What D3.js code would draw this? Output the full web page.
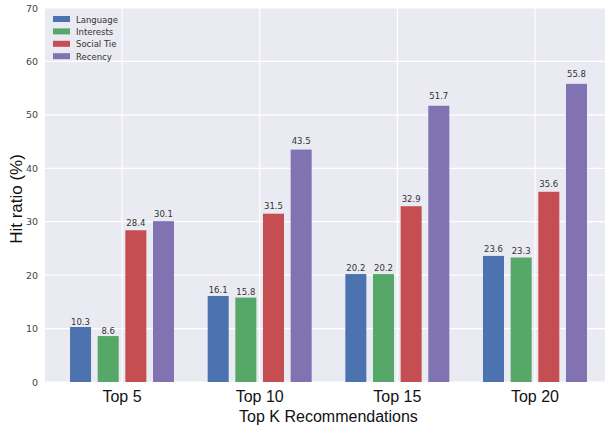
<!DOCTYPE html>
<html><head><meta charset="utf-8">
<script src="https://cdn.jsdelivr.net/npm/d3@7"></script>
<style>body{margin:0;background:#fff;} svg{display:block;}</style>
</head><body>
<svg id="chart" width="605" height="428"></svg>
<script>
const categories = ["Top 5", "Top 10", "Top 15", "Top 20"];
const seriesNames = ["Language", "Interests", "Social Tie", "Recency"];
const language = [10.3, 16.1, 20.2, 23.6];
const interests = [8.6, 15.8, 20.2, 23.3];
const socialTie = [28.4, 31.5, 32.9, 35.6];
const recency = [30.1, 43.5, 51.7, 55.8];
const yTicks = [0, 10, 20, 30, 40, 50, 60, 70];
const colors = ["#4C72B0", "#55A868", "#C44E52", "#8172B2"];
const seriesValues = [language, interests, socialTie, recency];

(function () {
const svg = d3.select("#chart");
const pLeft = 45, pRight = 612, pTop = 8, pBottom = 382;

const y = d3.scaleLinear().domain([0, 70]).range([pBottom, pTop]);
const x0 = d3.scaleBand().domain(categories).range([53.2, 603.8]).paddingInner(0.2445).paddingOuter(0.12225);
const x1 = d3.scaleBand().domain(seriesNames).range([0, x0.bandwidth()]).paddingInner(0.24).paddingOuter(0);

svg.append("rect").attr("x", pLeft).attr("y", pTop).attr("width", pRight - pLeft).attr("height", pBottom - pTop).attr("fill", "#EAEAF2");

// grid
svg.append("g").selectAll("line").data(yTicks).join("line")
  .attr("x1", pLeft).attr("x2", pRight)
  .attr("y1", d => y(d)).attr("y2", d => y(d))
  .attr("stroke", "#fff").attr("stroke-width", 1.2);
svg.append("g").selectAll("line").data(categories).join("line")
  .attr("x1", d => x0(d) + x0.bandwidth() / 2).attr("x2", d => x0(d) + x0.bandwidth() / 2)
  .attr("y1", pTop).attr("y2", pBottom)
  .attr("stroke", "#fff").attr("stroke-width", 1.2);

// y axis
const yAxis = svg.append("g").attr("transform", `translate(${pLeft},0)`)
  .call(d3.axisLeft(y).tickValues(yTicks).tickSize(0).tickPadding(7));
yAxis.select(".domain").remove();
yAxis.selectAll("text").attr("font-family", "DejaVu Sans, sans-serif").attr("font-size", 9.5).attr("fill", "#444");

// x axis
const xAxis = svg.append("g").attr("transform", `translate(0,${pBottom})`)
  .call(d3.axisBottom(x0).tickSize(0).tickPadding(9));
xAxis.select(".domain").remove();
xAxis.selectAll("text").attr("font-family", "Liberation Sans, Arial, sans-serif").attr("font-size", 16).attr("fill", "#111");

// bars
const groups = svg.append("g").selectAll("g").data(categories).join("g")
  .attr("transform", d => `translate(${x0(d)},0)`);
groups.selectAll("rect").data((d, i) => seriesNames.map((s, j) => ({s, j, v: seriesValues[j][i]}))).join("rect")
  .attr("x", d => x1(d.s)).attr("width", x1.bandwidth())
  .attr("y", d => y(d.v)).attr("height", d => y(0) - y(d.v))
  .attr("fill", d => colors[d.j]);
groups.selectAll("text").data((d, i) => seriesNames.map((s, j) => ({s, j, v: seriesValues[j][i]}))).join("text")
  .attr("x", d => x1(d.s) + x1.bandwidth() / 2).attr("y", d => y(d.v * 1.02) - 1)
  .attr("text-anchor", "middle")
  .attr("font-family", "DejaVu Sans, sans-serif").attr("font-size", 8.5).attr("fill", "#333")
  .text(d => d.v.toFixed(1));

// axis titles
svg.append("text").attr("x", (pLeft + pRight) / 2).attr("y", 422).attr("text-anchor", "middle")
  .attr("font-family", "Liberation Sans, Arial, sans-serif").attr("font-size", 16).attr("fill", "#111")
  .text("Top K Recommendations");
svg.append("text").attr("transform", `translate(22,${(pTop + pBottom) / 2 + 4}) rotate(-90)`).attr("text-anchor", "middle")
  .attr("font-family", "Liberation Sans, Arial, sans-serif").attr("font-size", 17).attr("fill", "#111")
  .text("Hit ratio (%)");

// legend
const legend = svg.append("g").selectAll("g").data(seriesNames).join("g")
  .attr("transform", (d, i) => `translate(53,${19 + i * 12.4})`);
legend.append("rect").attr("x", 0).attr("y", -3).attr("width", 17).attr("height", 6).attr("fill", (d, i) => colors[i]);
legend.append("text").attr("x", 23).attr("y", 3.5)
  .attr("font-family", "DejaVu Sans, sans-serif").attr("font-size", 8.5).attr("fill", "#333")
  .text(d => d);
})();
</script>
</body></html>
